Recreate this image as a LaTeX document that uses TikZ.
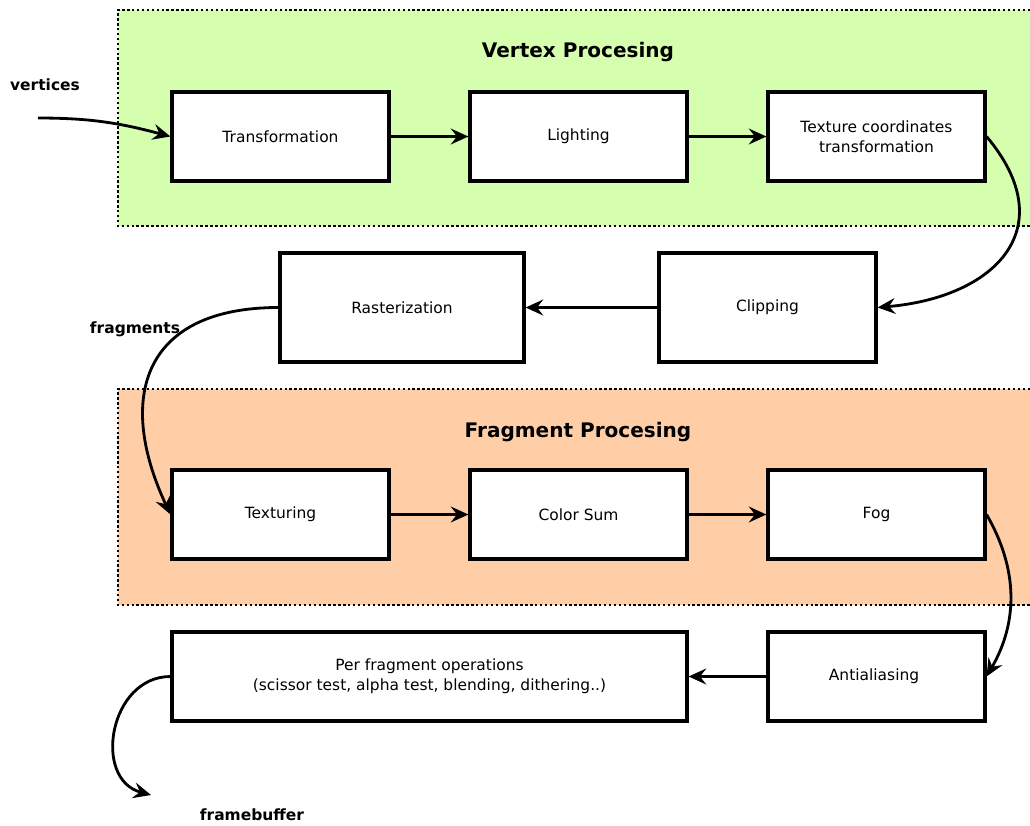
\documentclass[tikz,border=0pt]{standalone}
\usepackage{fontspec}
\setmainfont{DejaVu Sans}
\usetikzlibrary{arrows.meta}
\definecolor{vertexgreen}{RGB}{213,255,174}
\definecolor{fragorange}{RGB}{255,206,166}

\begin{document}
\begin{tikzpicture}[line join=miter,
    stage/.style={draw, line width=1.8pt, fill=white, align=center, inner sep=0pt,
      minimum width=4.34cm, minimum height=1.78cm, font=\fontsize{8.8}{11.2}\selectfont},
    flow/.style={-{Stealth[length=10pt,width=9pt,inset=3.5pt]}, line width=1.6pt},
    region/.style={line width=1.6pt, dash pattern=on 1.4pt off 1.4pt},
    heading/.style={font=\fontsize{11.4}{14}\selectfont\bfseries},
    tag/.style={font=\fontsize{8.8}{11}\selectfont\bfseries}]

    \useasboundingbox (0,0) rectangle (20.6,-16.5);

    % Shaded stages
    \fill[vertexgreen] (2.36,-0.2) rectangle (20.6,-4.52);
    \draw[region] (20.6,-0.2) -| (2.36,-4.52) -- (20.6,-4.52);
    \fill[fragorange] (2.36,-7.78) rectangle (20.6,-12.1);
    \draw[region] (20.6,-7.78) -| (2.36,-12.1) -- (20.6,-12.1);

    \node[heading] (vtitle) at (11.56,-1.04) {Vertex Procesing};
    \node[heading] (ftitle) at (11.56,-8.64) {Fragment Procesing};

    % Pipeline boxes
    \foreach \name/\x/\y/\txt in {
      trans/5.61/-2.73/Transformation,
      light/11.57/-2.73/Lighting,
      texco/17.53/-2.73/{Texture coordinates\\transformation},
      textr/5.61/-10.29/Texturing,
      csum/11.57/-10.29/Color Sum,
      fog/17.53/-10.29/Fog,
      anti/17.53/-13.53/Antialiasing
    } {
      \node[stage] (\name) at (\x,\y) {\txt};
    }
    \node[stage, minimum width=4.88cm, minimum height=2.18cm] (rast) at (8.04,-6.15) {Rasterization};
    \node[stage, minimum height=2.18cm] (clip) at (15.35,-6.15) {Clipping};
    \node[stage, minimum width=10.3cm] (perfrag) at (8.59,-13.53)
      {Per fragment operations\\(scissor test, alpha test, blending, dithering..)};

    % Free ends and labels
    \coordinate (vin) at (0.76,-2.36);
    \coordinate (fbout) at (3.02,-15.9);
    \node[tag] (vlabel) at (0.9,-1.7) {vertices};
    \node[tag] (flabel) at (2.7,-6.58) {fragments};
    \node[tag] (fblabel) at (5.04,-16.3) {framebuffer};

    % Connectors
    \draw[flow] (vin) to[out=0,in=165] (trans.west);
    \draw[flow] (trans) -- (light);
    \draw[flow] (light) -- (texco);
    \draw[flow] (texco.east) to[out=-50,in=5,looseness=1.5] (clip.east);
    \draw[flow] (clip) -- (rast);
    \draw[flow] (rast.west) to[out=180,in=115,looseness=1.45] (textr.west);
    \draw[flow] (textr) -- (csum);
    \draw[flow] (csum) -- (fog);
    \draw[flow] (fog.east) to[out=-60,in=60] (anti.east);
    \draw[flow] (anti) -- (perfrag);
    \draw[flow] (perfrag.west) to[out=180,in=165,looseness=1.3] (fbout);

\end{tikzpicture}
\end{document}
